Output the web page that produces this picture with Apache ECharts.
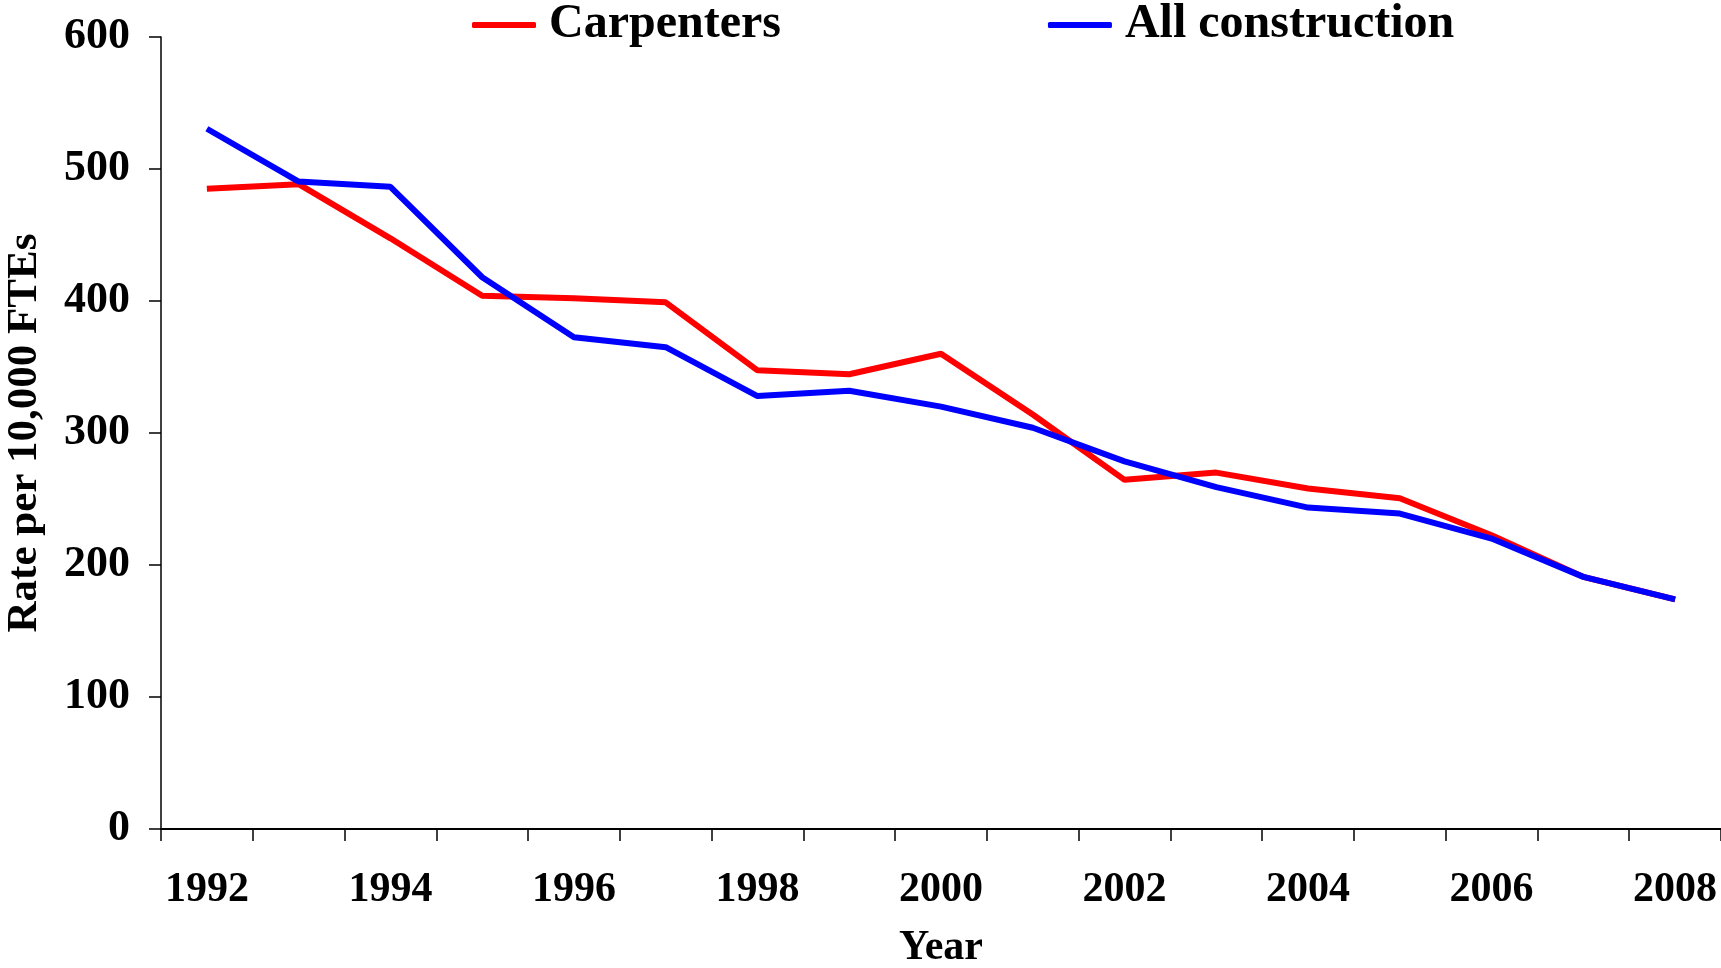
<!DOCTYPE html>
<html>
<head>
<meta charset="utf-8">
<script src="https://cdn.jsdelivr.net/npm/echarts@6/dist/echarts.min.js"></script>
<style>
html,body{margin:0;padding:0;background:#fff;}
#chart{width:1721px;height:968px;}
</style>
</head>
<body>
<div id="chart"></div>
<script>
const years = ['1992','1993','1994','1995','1996','1997','1998','1999','2000','2001','2002','2003','2004','2005','2006','2007','2008'];
const carpenters = [485, 488.5, 447.5, 404, 402, 399, 347.5, 344.5, 360, 314, 264.5, 270, 258, 250.5, 222.5, 191, 174];
const allConstruction = [530.5, 490.5, 486.5, 418, 372.5, 365, 328, 332, 320, 304, 278.5, 259, 243.5, 239, 220, 191, 174];
const yTicks = { min: 0, max: 600, interval: 100 };

const FONT = '"Liberation Serif", "Times New Roman", serif';
const chart = echarts.init(document.getElementById('chart'));
chart.setOption({
  animation: false,
  backgroundColor: '#ffffff',
  grid: { left: 161, right: 0, top: 37, bottom: 139, containLabel: false, outerBoundsMode: 'none' },
  legend: {
    top: 1, left: 472, padding: 0, itemGap: 267, itemWidth: 64, itemHeight: 6,
    icon: 'roundRect',
    textStyle: { fontFamily: FONT, fontWeight: 'bold', fontSize: 48, color: '#000', padding: [0, 0, 0, 8] },
    data: ['Carpenters', 'All construction']
  },
  xAxis: {
    type: 'category', data: years, boundaryGap: true,
    name: 'Year', nameLocation: 'middle', nameGap: 98,
    nameTextStyle: { fontFamily: FONT, fontWeight: 'bold', fontSize: 42, color: '#000' },
    axisLine: { lineStyle: { color: '#000', width: 2 } },
    axisTick: { show: true, interval: 0, length: 12, lineStyle: { color: '#000', width: 1.5 } },
    axisLabel: { interval: 1, margin: 40, fontFamily: FONT, fontWeight: 'bold', fontSize: 42, color: '#000' },
    splitLine: { show: false }
  },
  yAxis: {
    type: 'value', min: yTicks.min, max: yTicks.max, interval: yTicks.interval,
    name: 'Rate per 10,000 FTEs', nameLocation: 'middle', nameGap: 115, nameRotate: 90,
    nameTextStyle: { fontFamily: FONT, fontWeight: 'bold', fontSize: 43, color: '#000' },
    axisLine: { show: true, lineStyle: { color: '#000', width: 1.5 } },
    axisTick: { show: true, length: 12, lineStyle: { color: '#000', width: 1.5 } },
    axisLabel: { margin: 31, fontFamily: FONT, fontWeight: 'bold', fontSize: 44, color: '#000' },
    splitLine: { show: false }
  },
  series: [
    { name: 'Carpenters', type: 'line', data: carpenters, symbol: 'none',
      lineStyle: { color: '#ff0000', width: 6 }, itemStyle: { color: '#ff0000' } },
    { name: 'All construction', type: 'line', data: allConstruction, symbol: 'none',
      lineStyle: { color: '#0000ff', width: 6 }, itemStyle: { color: '#0000ff' } }
  ]
});
</script>
</body>
</html>
